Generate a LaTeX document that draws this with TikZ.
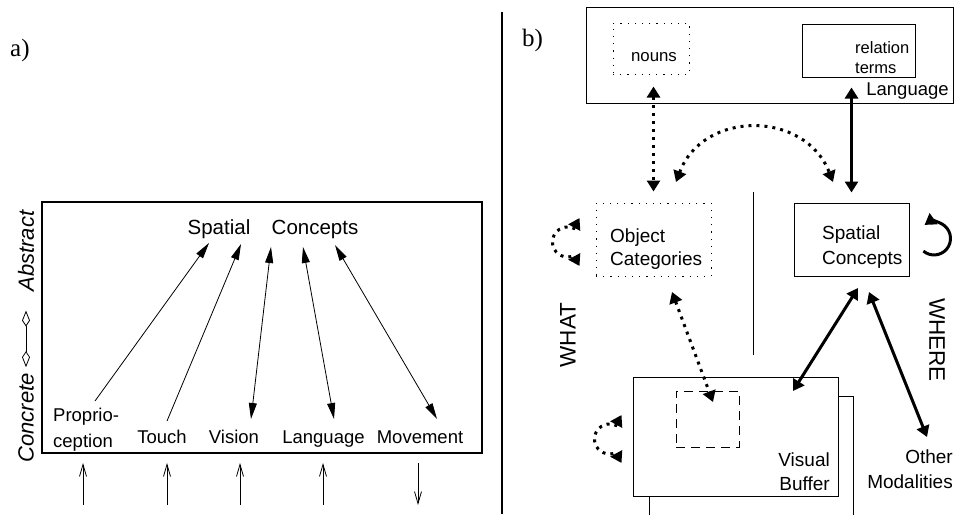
\documentclass[tikz,border=0pt]{standalone}
\usepackage{fontspec}
\setmainfont{Liberation Serif}
\newfontfamily\helv{Liberation Sans}
\usetikzlibrary{arrows.meta}

\begin{document}
\begin{tikzpicture}[x=1pt,y=-1pt,
	txt/.style={font=\helv\fontsize{18.5}{25}\selectfont,inner sep=0pt},
	bigtxt/.style={font=\helv\fontsize{20.5}{24}\selectfont,inner sep=0pt},
	side/.style={font=\helv\itshape\fontsize{22}{24}\selectfont,inner sep=0pt,rotate=90},
	way/.style={font=\helv\fontsize{22.5}{26}\selectfont,inner sep=0pt},
	part/.style={font=\fontsize{25}{28}\selectfont,inner sep=0pt,anchor=base west},
	box/.style={draw,line width=1pt,inner sep=0pt},
	dotbox/.style={box,dash pattern=on 1.2pt off 6pt},
	thinarr/.style={line width=0.8pt,-{Triangle[length=16pt,width=8pt]}},
	thinboth/.style={thinarr,{Triangle[length=16pt,width=8pt]}-{Triangle[length=16pt,width=8pt]}},
	boldarr/.style={line width=3pt,{Triangle[length=11pt,width=13pt]}-{Triangle[length=11pt,width=13pt]}},
	dotarr/.style={boldarr,dash pattern=on 3pt off 5pt},
	inbar/.style={line width=0.8pt,-{Straight Barb[length=12pt,width=7pt]}}]
\path[use as bounding box] (0,0) rectangle (955,514);
\clip (0,0) rectangle (955,514);

% panel a
\node[part] (pa) at (10,56) {a)};
\node[draw,line width=2pt,minimum width=440pt,minimum height=251pt] (frame) at (262,327.5) {};
\node[bigtxt,anchor=base] (spatial) at (219,234) {Spatial};
\node[bigtxt,anchor=base] (concepts) at (315,234) {Concepts};
\node[txt,anchor=west,align=left,font=\helv\fontsize{18.5}{26}\selectfont] (prop) at (53,430) {Proprio-\\ception};
\node[txt,anchor=base] (touch) at (162,443) {Touch};
\node[txt,anchor=base] (vision) at (234,443) {Vision};
\node[txt,anchor=base] (language) at (323.5,443) {Language};
\node[txt,anchor=base] (movement) at (420,443) {Movement};
\node[side] (abstract) at (26,251) {Abstract};
\node[side] (concrete) at (26,418) {Concrete};
\draw[line width=0.8pt,{Kite[open,length=16pt,width=8pt,inset=6pt]}-{Kite[open,length=16pt,width=8pt,inset=6pt]},
	shorten <=6pt,shorten >=19pt] (concrete.east) -- (abstract.west);

\coordinate (p1) at (95,401);  \coordinate (s1) at (209,243);
\coordinate (p2) at (167,421); \coordinate (s2) at (241,244);
\coordinate (p3) at (251,419); \coordinate (s3) at (271,247);
\coordinate (p4) at (334,419); \coordinate (s4) at (303,247);
\coordinate (p5) at (437,419); \coordinate (s5) at (335,245);
\draw[thinarr] (p1) -- (s1);
\draw[thinarr] (p2) -- (s2);
\draw[thinboth] (p3) -- (s3);
\draw[thinboth] (p4) -- (s4);
\draw[thinboth] (p5) -- (s5);

\foreach \x in {83,167,240,323}
	\draw[inbar] (\x,505) -- (\x,463);
\draw[inbar] (418,463) -- (418,505);

\draw[line width=2pt] (502,12) -- (502,514);

% panel b
\node[part] (pb) at (522,46) {b)};
\node[box,minimum width=367pt,minimum height=96pt] (langbox) at (769.5,55) {};
\node[txt] (langlbl) at (907.5,91) {Language};
\node[dotbox,minimum width=76pt,minimum height=51pt] (nouns) at (651,48.5) {};
\node[txt,font=\helv\fontsize{16.8}{20}\selectfont] (nounslbl) at (654,57) {nouns};
\node[box,minimum width=113pt,minimum height=53pt] (relterms) at (858.5,50.5) {};
\node[txt,anchor=west,align=left,font=\helv\fontsize{16.5}{20}\selectfont] (rellbl) at (855,58) {relation\\terms};

\node[dotbox,minimum width=115pt,minimum height=73pt] (objcat) at (653.5,239.5) {};
\node[txt,anchor=west,align=left,font=\helv\fontsize{19}{23}\selectfont] (objlbl) at (610,249) {Object\\ Categories};
\node[box,minimum width=115pt,minimum height=73pt] (spbox) at (851.5,239.5) {};
\node[txt,anchor=west,align=left,font=\helv\fontsize{19}{25}\selectfont] (splbl) at (822,247) {Spatial\\ Concepts};

\node[way,rotate=90] (what) at (568,335) {WHAT};
\node[way,rotate=-90] (where) at (937,340) {WHERE};
\coordinate (midtop) at (753,192);
\coordinate (midbot) at (753,355);
\draw[line width=0.8pt] (midtop) -- (midbot);

\node[box,fill=white,minimum width=204pt,minimum height=134pt] (visback) at (751,463) {};
\node[box,fill=white,minimum width=205pt,minimum height=119pt] (visfront) at (735.5,436.5) {};
\node[box,dash pattern=on 9pt off 6pt,minimum width=63pt,minimum height=56pt] (focus) at (707.5,419) {};
\node[txt,anchor=east,align=right,font=\helv\fontsize{19}{24}\selectfont] (vislbl) at (830,472) {Visual\\ Buffer};
\node[txt,anchor=east,align=right,font=\helv\fontsize{19}{25}\selectfont] (other) at (953,469.5) {Other\\ Modalities};

% connections
\draw[dotarr,shorten <=12pt,shorten >=11pt] (objcat.north |- nouns.south) -- (objcat.north);
\draw[boldarr,shorten <=10pt,shorten >=10pt] (spbox.north |- relterms.south) -- (spbox.north);
\coordinate (arcl) at (676,182);
\coordinate (arcr) at (833,182);
\draw[dotarr] (arcl) .. controls (703,110) and (805,110) .. (arcr);
\coordinate (octail) at (672,292);
\coordinate (fochead) at (713,402);
\draw[dotarr] (octail) -- (fochead);
\coordinate (spvis) at (858,288);
\coordinate (visend) at (793,391);
\draw[boldarr] (spvis) -- (visend);
\coordinate (spoth) at (869,292);
\coordinate (othend) at (927,437);
\draw[boldarr] (spoth) -- (othend);

% self loops
\draw[line width=3pt,-{Triangle[length=11pt,width=13pt]}]
	(spbox.east) ++(13.9,11.6) arc[start angle=230,end angle=485,radius=16.5pt];
\draw[dotarr,{Triangle[length=11pt,width=13pt]}-{Triangle[length=11pt,width=13pt]}]
	(objcat.west) ++(-16,-21.5) -- ++(-5.7,10.4) arc[start angle=65,end angle=295,radius=15pt] -- ++(5.7,10.4);
\draw[dotarr,{Triangle[length=11pt,width=13pt]}-{Triangle[length=11pt,width=13pt]}]
	(visfront.west) ++(-11,-21.5) -- ++(-5.7,10.4) arc[start angle=65,end angle=295,radius=15pt] -- ++(5.7,10.4);
\end{tikzpicture}
\end{document}
